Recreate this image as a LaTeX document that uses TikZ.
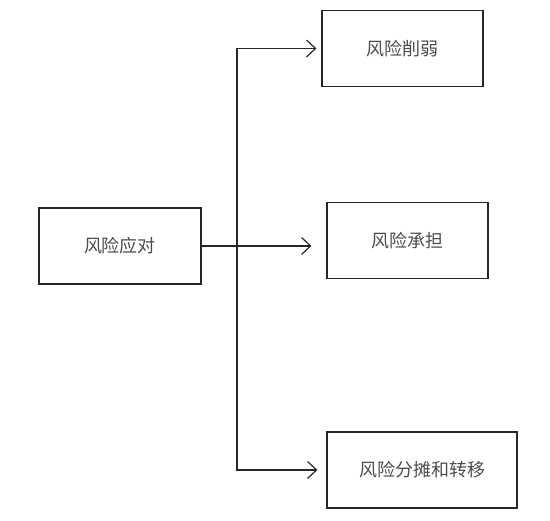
\documentclass[tikz,border=0pt]{standalone}
\usepackage{fontspec}
\newfontfamily\cjk{Noto Sans CJK SC}
\usetikzlibrary{arrows.meta, positioning}

\begin{document}
\begin{tikzpicture}[x=1pt, y=1pt, every node/.style={font=\cjk\fontsize{18}{20}\selectfont}]
        \tikzset{
          box/.style={draw=black!85, line width=1.2pt, text=black!70,
                      minimum height=76pt, inner sep=0pt},
          link/.style={draw=black!85, line width=1.2pt},
          arr/.style={link, -{Straight Barb[length=9pt, width=17pt, line width=1.2pt]}}
        }
        \useasboundingbox (0,0) rectangle (550,521);

        \node[box, minimum width=162pt] (risk)  at (120, 275) {风险应对};
        \node[box, minimum width=161pt] (weak)  at (402.5, 472.5) {风险削弱};
        \node[box, minimum width=161pt] (bear)  at (407.5, 280.5) {风险承担};
        \node[box, minimum width=190pt] (shift) at (422, 51) {风险分摊和转移};

        % branching point
        \coordinate (fork) at (237, 275);
        \draw[link] (risk.east) -- (fork);
        \draw[arr, shorten >=5pt] (fork) |- (weak.west);
        \draw[arr, shorten >=15pt] (fork) -- (fork -| bear.west);
        \draw[arr, shorten >=9pt] (fork) |- (shift.west);
      \end{tikzpicture}
\end{document}
